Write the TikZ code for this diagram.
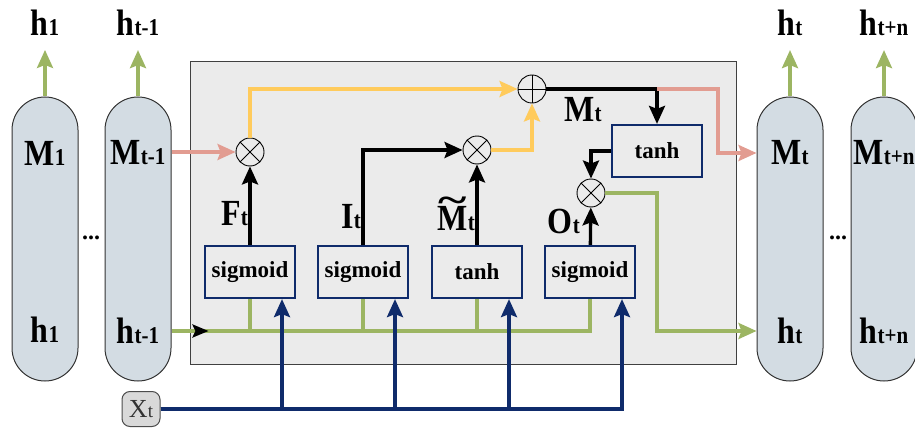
\documentclass[tikz,border=0pt]{standalone}
\usepackage{fontspec}
\setmainfont{Liberation Serif}
\usetikzlibrary{arrows.meta,decorations.markings}
\definecolor{pillfill}{HTML}{D3DCE3}
\definecolor{cellfill}{HTML}{EBEBEB}
\definecolor{gelb}{HTML}{FFCB5C}
\definecolor{rosa}{HTML}{E29C91}
\definecolor{gruen}{HTML}{9CB562}
\definecolor{marine}{HTML}{0F2B6B}
\newcommand{\lbl}[3][32]{\scalebox{1}[1.15]{{\fontsize{#1}{#1}\selectfont\bfseries #2}{\fontsize{21}{21}\selectfont\bfseries #3}}}
\newcommand{\tildeM}{\ooalign{M\cr\hidewidth\raisebox{0.5em}{\scalebox{1.7}[1]{\char`\~}}\hidewidth\cr}}

\begin{document}
\begin{tikzpicture}[
      x=1pt,y=-1pt,
      every node/.style={inner sep=0pt},
      pill/.style={draw=black!80,line width=1pt,fill=pillfill,rounded corners=33pt,minimum width=66pt,minimum height=284pt},
      cell/.style={draw=black!75,line width=1pt,fill=cellfill,minimum width=546pt,minimum height=302pt},
      gate/.style={draw=marine,line width=2.2pt,fill=cellfill,minimum width=90pt,minimum height=52pt,font=\fontsize{23}{23}\selectfont\bfseries},
      op/.style={circle,draw,line width=0.9pt,minimum size=28pt},
      otimes/.style={op,path picture={\draw[line width=0.9pt] (path picture bounding box.north west)--(path picture bounding box.south east) (path picture bounding box.north east)--(path picture bounding box.south west);}},
      oplus/.style={op,path picture={\draw[line width=0.9pt] (path picture bounding box.north)--(path picture bounding box.south) (path picture bounding box.east)--(path picture bounding box.west);}},
      xbox/.style={draw=black!70,line width=1pt,fill=black!15,rounded corners=8pt,minimum width=38pt,minimum height=35pt,text=black!80},
      wire/.style={line width=3.3pt},
      arrowtip/.style={-{Stealth[length=18pt,width=16pt,inset=3pt]}},
    ]
  \useasboundingbox (0,0) rectangle (915,433);

  % memory cell
  \node[cell] (box) at (463,213) {};

  % unrolled states
  \node[pill] (p1) at (45,239) {};
  \node[pill] (p2) at (138,239) {};
  \node[pill] (p3) at (790,239) {};
  \node[pill] (p4) at (884,239) {};
  \node (m1) at (45,153) {\lbl{M}{1}};
  \node (m2) at (138,153) {\lbl{M}{t-1}};
  \node (m3) at (790,153) {\lbl{M}{t}};
  \node (m4) at (884,153) {\lbl{M}{t+n}};
  \node (h1) at (45,330) {\lbl{h}{1}};
  \node (h2) at (138,331) {\lbl{h}{t-1}};
  \node (h3) at (790,331) {\lbl{h}{t}};
  \node (h4) at (884,331) {\lbl{h}{t+n}};
  \node (y1) at (45,23) {\lbl[32]{h}{1}};
  \node (y2) at (138,23) {\lbl[32]{h}{t-1}};
  \node (y3) at (790,23) {\lbl[32]{h}{t}};
  \node (y4) at (884,23) {\lbl[32]{h}{t+n}};
  \node (d1) at (91,238) {\fontsize{24}{24}\selectfont\bfseries...};
  \node (d2) at (838,238) {\fontsize{24}{24}\selectfont\bfseries...};
  \foreach \p/\y in {p1/y1,p2/y2,p3/y3,p4/y4}
    \draw[wire,gruen,arrowtip] (\p.north) -- ([yshift=-14pt]\y.south);

  % gates and operators
  \node[gate] (sg1) at (250,272) {sigmoid};
  \node[gate] (sg2) at (363,272) {sigmoid};
  \node[gate] (th1) at (477,272) {tanh};
  \node[gate] (sg3) at (590,272) {sigmoid};
  \node[gate] (th2) at (657,151) {tanh};
  \node[otimes] (fx) at (250,152) {};
  \node[otimes] (ix) at (477,150) {};
  \node[otimes] (ox) at (591,193) {};
  \node[oplus] (sum) at (532,89) {};
  \node[xbox] (xt) at (141,409) {{\fontsize{26}{26}\selectfont X}{\fontsize{19}{19}\selectfont t}};

  \node[anchor=east] (fl) at (248,214) {\lbl{F}{t}};
  \node[anchor=east] (il) at (361,217) {\lbl{I}{t}};
  \node[anchor=east] (ml) at (475,219) {\lbl{\tildeM}{t}};
  \node[anchor=east] (ol) at (580,221) {\lbl{O}{t}};
  \node (mtl) at (583,110) {\lbl{M}{t}};

  \coordinate (split) at (th2.north |- sum);
  \coordinate (mbend) at (718,89);

  % memory path
  \draw[wire,rosa,arrowtip] (p2.east |- fx) -- (fx);
  \draw[wire,gelb,arrowtip] (fx) |- (sum);
  \draw[wire,arrowtip] (sg1) -- (fx);
  \draw[wire,arrowtip] (sg2) |- (ix);
  \draw[wire,arrowtip] (th1) -- (ix);
  \draw[wire,gelb,arrowtip] (ix) -| (sum);
  \draw[wire] (sum) -- (split);
  \draw[wire,arrowtip] (split) -- (th2);
  \draw[wire,rosa,arrowtip] (split) -- (mbend) |- (p3.west |- m3);
  \draw[wire,arrowtip] (th2) -| (ox);
  \draw[wire,arrowtip] (sg3) -- (ox);
  \draw[wire,gruen,arrowtip] (ox) -| (split |- h3) -- (p3.west |- h3);

  % hidden state and input
  \draw[wire,gruen,postaction={decorate},decoration={markings,mark=at position 37pt with {\arrow[black]{Stealth[length=16pt,width=13pt,inset=3pt]}}}] (p2.east |- h2) -| (sg3);
  \foreach \g in {sg1,sg2,th1}
    \draw[wire,gruen] (\g) -- (\g |- h2);
  \foreach \g in {sg1,sg2,th1,sg3}
    \draw[wire,marine,arrowtip] (xt) -| ([xshift=32pt]\g.south);
\end{tikzpicture}
\end{document}
